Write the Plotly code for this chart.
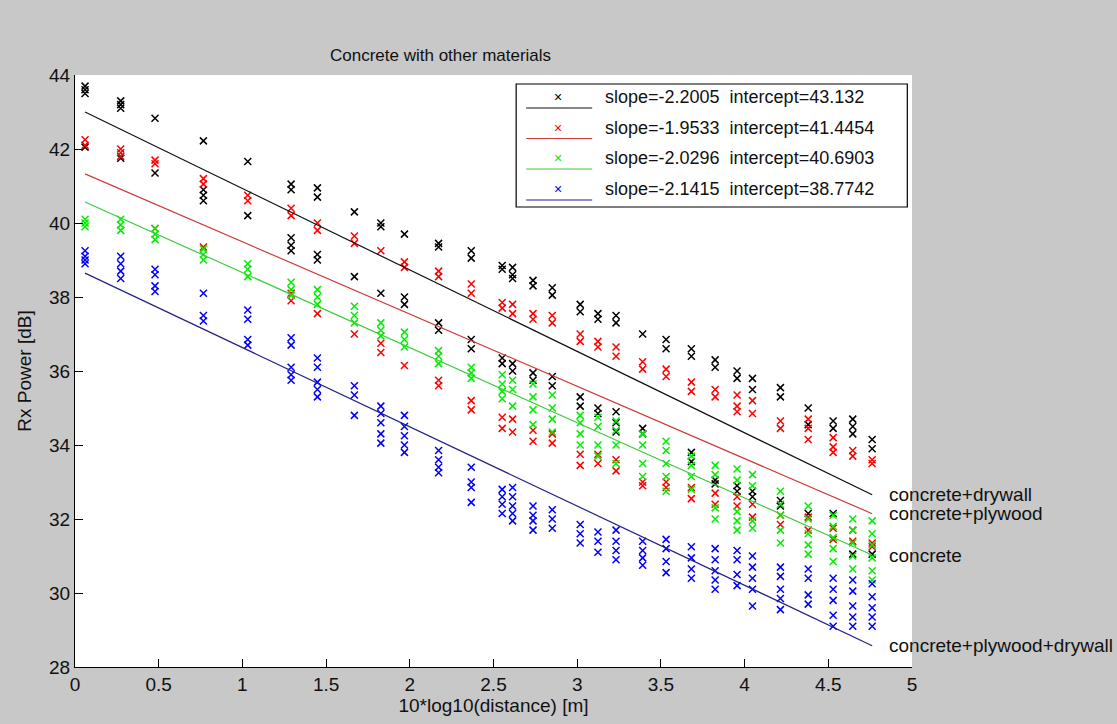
import plotly.graph_objects as go

# ---------------- data ----------------
X_COLS = [0.060, 0.273, 0.478, 0.767, 1.032, 1.291, 1.448, 1.669, 1.827, 1.968,
          2.172, 2.367, 2.552, 2.614, 2.736, 2.851, 3.018, 3.124, 3.232, 3.391,
          3.531, 3.682, 3.824, 3.955, 4.047, 4.214, 4.380, 4.529, 4.646, 4.762]

BLACK_Y = [[43.7, 43.6, 43.5, 42.05], [43.3, 43.2, 43.1, 41.75], [42.83, 41.35],
           [42.22, 40.9, 40.75, 40.6], [41.66, 40.2], [41.05, 40.9, 39.6, 39.4, 39.25],
           [40.95, 40.7, 39.15, 39.0], [40.3, 38.55], [40.0, 39.9, 38.1],
           [39.7, 38.0, 37.8], [39.45, 39.35, 37.3, 37.1], [39.25, 39.05, 36.85, 36.6],
           [38.85, 38.75, 36.35, 36.2], [38.8, 38.6, 38.5, 36.2, 36.0],
           [38.45, 38.3, 35.95, 35.75], [38.25, 38.05, 35.85, 35.6],
           [37.8, 37.6, 35.3, 35.05], [37.55, 37.4, 35.0, 34.85],
           [37.5, 37.3, 34.9, 34.6, 34.35], [37.0, 34.45, 34.3], [36.85, 36.6],
           [36.6, 36.4, 33.8, 33.55], [36.3, 36.1, 33.05, 32.95], [36.0, 35.8, 32.9, 32.75],
           [35.8, 35.5, 32.75, 32.6], [35.55, 35.3, 32.5, 32.35], [35.0, 34.55, 32.15],
           [34.65, 34.45, 32.15], [34.7, 34.5, 34.3, 31.05], [34.15, 33.9, 31.05]]

RED_Y = [[42.25, 42.1], [42.0, 41.9, 41.8], [41.7, 41.6, 39.85], [41.2, 41.05, 39.35],
         [40.75, 40.6], [40.4, 40.2, 38.1, 37.9], [40.0, 39.8, 37.55], [39.65, 39.45, 37.0],
         [39.25, 36.75, 36.5], [38.95, 38.8, 36.15], [38.7, 38.55, 35.75, 35.6],
         [38.35, 38.1, 35.2, 34.95], [37.85, 37.7, 34.75, 34.45], [37.8, 37.55, 34.7, 34.35],
         [37.55, 37.4, 34.4, 34.1], [37.5, 37.3, 34.3, 34.05], [37.0, 36.8, 33.75, 33.45],
         [36.8, 36.65, 33.75, 33.5], [36.65, 36.4, 33.6, 33.3], [36.25, 36.05, 33.0, 32.9],
         [36.05, 35.85, 33.0, 32.85], [35.7, 35.45, 32.85, 32.55], [35.5, 35.3, 32.7, 32.4],
         [35.35, 35.05, 34.9, 32.6, 32.35], [35.2, 34.85, 32.4, 32.05],
         [34.65, 34.45, 32.1, 31.85], [34.7, 34.45, 34.15, 32.05, 31.7],
         [34.2, 33.95, 33.8, 31.75, 31.45], [33.85, 33.7, 31.7, 31.4],
         [33.6, 33.5, 31.35, 31.25]]

GREEN_Y = [[40.1, 40.0, 39.9], [40.1, 39.95, 39.8], [39.85, 39.7, 39.55], [39.3, 39.15, 39.0],
           [38.9, 38.75, 38.55], [38.4, 38.2, 38.05], [38.2, 38.0, 37.8], [37.75, 37.5, 37.3],
           [37.3, 37.1, 36.95], [37.05, 36.85, 36.65], [36.55, 36.4, 36.2], [36.1, 35.95, 35.8],
           [35.9, 35.65, 35.45, 35.25], [35.75, 35.5, 35.05], [35.65, 35.3, 34.95, 34.55],
           [35.35, 35.0, 34.7, 34.35], [34.8, 34.6, 34.3, 34.0], [34.75, 34.5, 34.0, 33.7],
           [34.65, 34.4, 34.0, 33.5], [34.3, 34.0, 33.5, 33.15], [34.1, 33.85, 33.5, 33.15, 32.75],
           [33.7, 33.45, 33.15, 32.8], [33.45, 33.2, 32.3, 32.0], [33.35, 33.05, 32.2, 31.95, 31.7],
           [33.2, 32.9, 31.95, 31.75], [32.75, 32.4, 32.1, 31.7, 31.35],
           [32.35, 32.0, 31.6, 31.3, 31.05], [32.1, 31.8, 31.5, 31.2, 30.85],
           [32.0, 31.7, 31.35, 31.0, 30.65], [31.95, 31.6, 31.3, 30.95, 30.6, 30.35]]

BLUE_Y = [[39.25, 39.1, 39.0, 38.9], [39.1, 38.9, 38.7, 38.5], [38.75, 38.6, 38.3, 38.15],
          [38.1, 37.5, 37.35], [37.65, 37.4, 36.85, 36.7], [36.9, 36.7, 36.1, 35.9, 35.75],
          [36.35, 36.1, 35.7, 35.5, 35.3], [35.6, 35.35, 34.8], [35.05, 34.85, 34.6, 34.3, 34.05],
          [34.8, 34.5, 34.25, 34.0, 33.8], [33.85, 33.6, 33.4, 33.25], [33.4, 33.0, 32.85, 32.45],
          [32.8, 32.6, 32.4, 32.15], [32.85, 32.6, 32.35, 32.15, 31.95], [32.35, 32.1, 31.95, 31.7],
          [32.25, 32.0, 31.75], [31.85, 31.6, 31.35], [31.65, 31.4, 31.1], [31.7, 31.4, 31.15, 30.9],
          [31.4, 31.15, 30.95, 30.75], [31.45, 31.2, 30.85, 30.55], [31.25, 30.95, 30.65, 30.4],
          [31.2, 30.9, 30.6, 30.35, 30.1], [31.15, 30.9, 30.5, 30.2], [31.0, 30.7, 30.4, 30.1, 29.65],
          [30.7, 30.45, 30.1, 29.85, 29.55], [30.65, 30.4, 29.95, 29.7], [30.4, 30.1, 29.8, 29.4, 29.1],
          [30.35, 30.05, 29.65, 29.35, 29.1], [30.25, 29.9, 29.6, 29.35, 29.1]]

SERIES_NAMES = ["concrete+drywall", "concrete+plywood", "concrete", "concrete+plywood+drywall"]
SLOPES = ["-2.2005", "-1.9533", "-2.0296", "-2.1415"]
INTERCEPTS = ["43.132", "41.4454", "40.6903", "38.7742"]
FIT_X = [X_COLS[0], X_COLS[-1]]

TITLE = "Concrete with other materials"
X_TITLE = "10*log10(distance) [m]"
Y_TITLE = "Rx Power [dB]"

# ---------------- styling ----------------
MARKER_COLORS = ["#000000", "#ff0000", "#00ee00", "#0000ff"]
LINE_COLORS = ["#111111", "#d03a3a", "#3ccc3c", "#222288"]
FONT = "Liberation Sans, Arial, sans-serif"
BG = "#c8c8c8"

fig = go.Figure()

all_y = [BLACK_Y, RED_Y, GREEN_Y, BLUE_Y]
for ys, col in zip(all_y, MARKER_COLORS):
    xs, yv = [], []
    for xc, col_vals in zip(X_COLS, ys):
        for v in col_vals:
            xs.append(xc)
            yv.append(v)
    fig.add_trace(go.Scatter(
        x=xs, y=yv, mode="markers",
        marker=dict(symbol="x-thin", size=7, line=dict(width=1.5, color=col)),
        showlegend=False, hoverinfo="x+y"))

for s, b, col in zip(SLOPES, INTERCEPTS, LINE_COLORS):
    sv, bv = float(s), float(b)
    fig.add_trace(go.Scatter(
        x=FIT_X, y=[bv + sv * x for x in FIT_X], mode="lines",
        line=dict(color=col, width=1.2), showlegend=False, hoverinfo="skip"))

annotations = []
# right-hand labels at the end of each fit line
for name, s, b in zip(SERIES_NAMES, SLOPES, INTERCEPTS):
    xe = FIT_X[-1]
    ye = float(b) + float(s) * xe
    annotations.append(dict(x=xe, y=ye, xref="x", yref="y", text=name, showarrow=False,
                            xanchor="left", yanchor="middle", xshift=15,
                            font=dict(family=FONT, size=19, color="#111111")))

# custom MATLAB-style legend (paper coordinates)
PW, PH = 836.7, 592.0
def px(xp):
    return (xp - 75) / PW
def py(yp):
    return (667 - yp) / PH

shapes = [dict(type="rect", xref="paper", yref="paper",
               x0=px(516), x1=px(907), y0=py(207), y1=py(84),
               line=dict(color="black", width=1.2), fillcolor="white", layer="above")]
row_text_y = [97, 127.5, 158, 189]
row_line_y = [108, 138.5, 169, 200]
for i, (s, b) in enumerate(zip(SLOPES, INTERCEPTS)):
    shapes.append(dict(type="line", xref="paper", yref="paper",
                       x0=px(526), x1=px(592), y0=py(row_line_y[i]), y1=py(row_line_y[i]),
                       line=dict(color=LINE_COLORS[i], width=1.2), layer="above"))
    annotations.append(dict(x=px(558), y=py(row_text_y[i]), xref="paper", yref="paper",
                            text="×", showarrow=False, xanchor="center", yanchor="middle",
                            font=dict(family=FONT, size=14, color=MARKER_COLORS[i])))
    annotations.append(dict(x=px(603), y=py(row_text_y[i]), xref="paper", yref="paper",
                            text=f"slope={s}\u00a0\u00a0intercept={b}", showarrow=False,
                            xanchor="left", yanchor="middle",
                            font=dict(family=FONT, size=18, color="#111111")))

annotations.append(dict(x=px(440), y=py(55), xref="paper", yref="paper", text=TITLE,
                        showarrow=False, xanchor="center", yanchor="middle",
                        font=dict(family=FONT, size=17, color="#111111")))

fig.update_layout(
    width=1117, height=724,
    paper_bgcolor=BG, plot_bgcolor="white",
    margin=dict(l=75, r=205, t=75, b=57),
    font=dict(family=FONT, size=19, color="#111111"),
    annotations=annotations, shapes=shapes,
    showlegend=False,
)
fig.update_xaxes(range=[0, 5], dtick=0.5, tick0=0, showgrid=False, zeroline=False,
                 showline=True, linecolor="black", linewidth=1.2, mirror=False,
                 ticks="inside", ticklen=8, tickcolor="black",
                 tickfont=dict(size=19),
                 title=dict(text=X_TITLE, font=dict(size=19), standoff=2))
fig.update_yaxes(range=[28, 44], dtick=2, tick0=28, showgrid=False, zeroline=False,
                 showline=True, linecolor="black", linewidth=1.2, mirror=False,
                 ticks="inside", ticklen=8, tickcolor="black",
                 tickfont=dict(size=19),
                 title=dict(text=Y_TITLE, font=dict(size=19), standoff=12))

fig.write_html("out.html",
               config={"displayModeBar": False},
               post_script="document.body.style.margin='0px';"
                           "document.body.style.background='#c8c8c8';")
